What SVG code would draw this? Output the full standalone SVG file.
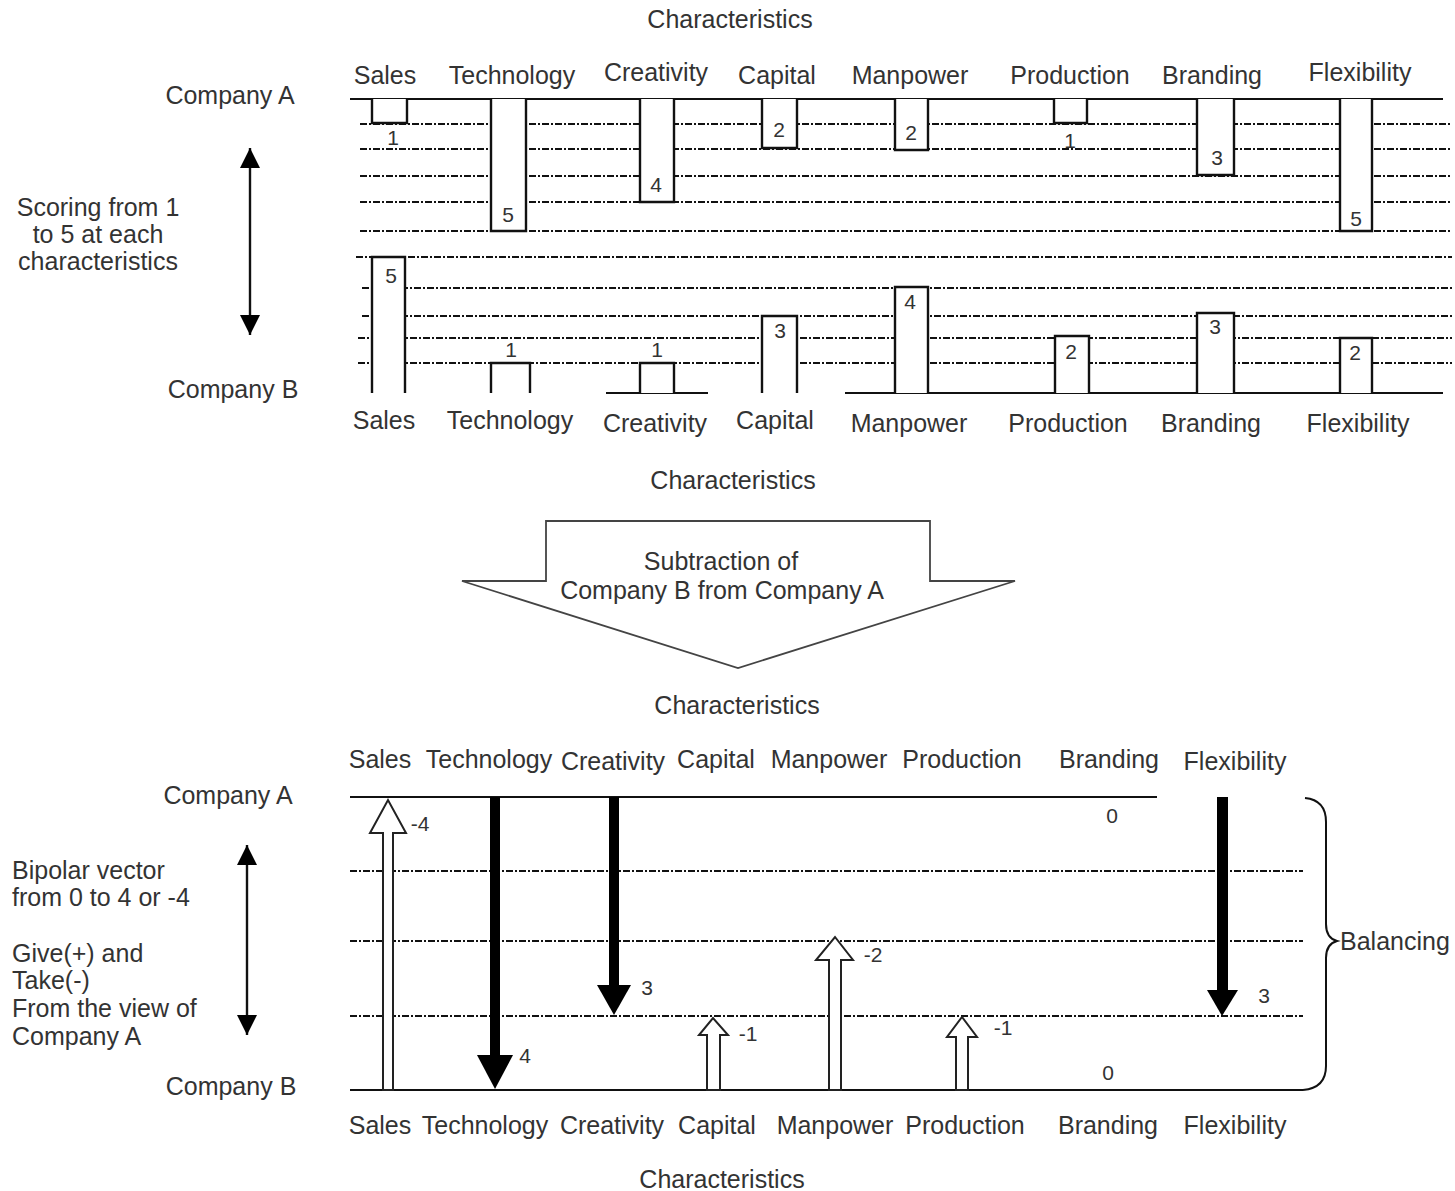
<svg xmlns="http://www.w3.org/2000/svg" width="1455" height="1191" viewBox="0 0 1455 1191">
<style>
text{font-family:"Liberation Sans",Arial,sans-serif;fill:#333;font-size:25px}
.c{text-anchor:middle}
.n{font-size:21px;text-anchor:middle}
.axis{stroke:#111;stroke-width:2.2;fill:none}
.dash{stroke:#111;stroke-width:1.9;stroke-dasharray:7 2 2 2;fill:none}
.bar{stroke:#111;stroke-width:2.4;fill:#fff}
.hollow{stroke:#222;stroke-width:2;fill:#fff}
.solid{fill:#000}
.dbl{stroke:#111;stroke-width:2.4}
</style>
<defs>
<marker id="ah2" viewBox="0 0 24 22" refX="22" refY="11" markerWidth="22" markerHeight="24" markerUnits="userSpaceOnUse" orient="auto-start-reverse">
<path d="M0,0 L22,11 L0,22 z" fill="#000"/>
</marker>
</defs>

<!-- ===== TOP SECTION ===== -->
<g id="top-grid">
<line class="axis" x1="350" y1="99" x2="1443" y2="99"/>
<line class="dash" x1="360" y1="124" x2="1452" y2="124"/>
<line class="dash" x1="360" y1="149" x2="1452" y2="149"/>
<line class="dash" x1="360" y1="176" x2="1452" y2="176"/>
<line class="dash" x1="360" y1="202" x2="1452" y2="202"/>
<line class="dash" x1="360" y1="231" x2="1452" y2="231"/>
<line class="dash" x1="356" y1="257" x2="1452" y2="257"/>
<line class="dash" x1="362" y1="288" x2="1452" y2="288"/>
<line class="dash" x1="362" y1="316" x2="1452" y2="316"/>
<line class="dash" x1="358" y1="338" x2="1452" y2="338"/>
<line class="dash" x1="358" y1="363" x2="1452" y2="363"/>
<line class="axis" x1="845" y1="393" x2="1443" y2="393"/>
<line class="axis" x1="606" y1="393" x2="708" y2="393"/>
</g>

<g id="top-titles">
<text class="c" x="730" y="28">Characteristics</text>
<text class="c" x="385" y="84">Sales</text>
<text class="c" x="512" y="84">Technology</text>
<text class="c" x="656" y="81">Creativity</text>
<text class="c" x="777" y="84">Capital</text>
<text class="c" x="910" y="84">Manpower</text>
<text class="c" x="1070" y="84">Production</text>
<text class="c" x="1212" y="84">Branding</text>
<text class="c" x="1360" y="81">Flexibility</text>
<text class="c" x="384" y="429">Sales</text>
<text class="c" x="510" y="429">Technology</text>
<text class="c" x="655" y="432">Creativity</text>
<text class="c" x="775" y="429">Capital</text>
<text class="c" x="909" y="432">Manpower</text>
<text class="c" x="1068" y="432">Production</text>
<text class="c" x="1211" y="432">Branding</text>
<text class="c" x="1358" y="432">Flexibility</text>
<text class="c" x="733" y="489">Characteristics</text>
</g>

<g id="company-a-bars">
<path class="bar" d="M372,99 V123 H407 V99"/><text class="n" x="393" y="145">1</text>
<path class="bar" d="M491,99 V231 H526 V99"/><text class="n" x="508" y="222">5</text>
<path class="bar" d="M640,99 V202 H674 V99"/><text class="n" x="656" y="192">4</text>
<path class="bar" d="M762,99 V148 H797 V99"/><text class="n" x="779" y="137">2</text>
<path class="bar" d="M895,99 V150 H928 V99"/><text class="n" x="911" y="140">2</text>
<path class="bar" d="M1054,99 V123 H1087 V99"/><text class="n" x="1070" y="148">1</text>
<path class="bar" d="M1197,99 V175 H1234 V99"/><text class="n" x="1217" y="165">3</text>
<path class="bar" d="M1340,99 V231 H1372 V99"/><text class="n" x="1356" y="226">5</text>
</g>

<g id="company-b-bars">
<path class="bar" d="M372,393 V257 H405 V393"/><text class="n" x="391" y="283">5</text>
<path class="bar" d="M491,393 V363 H530 V393"/><text class="n" x="511" y="357">1</text>
<path class="bar" d="M640,393 V363 H674 V393"/><text class="n" x="657" y="357">1</text>
<path class="bar" d="M762,393 V316 H797 V393"/><text class="n" x="780" y="338">3</text>
<path class="bar" d="M895,393 V287 H928 V393"/><text class="n" x="910" y="309">4</text>
<path class="bar" d="M1055,393 V336 H1089 V393"/><text class="n" x="1071" y="359">2</text>
<path class="bar" d="M1197,393 V313 H1234 V393"/><text class="n" x="1215" y="334">3</text>
<path class="bar" d="M1340,393 V338 H1372 V393"/><text class="n" x="1355" y="360">2</text>
</g>

<g id="top-legend">
<text class="c" x="230" y="104">Company A</text>
<text class="c" x="233" y="398">Company B</text>
<text class="c" x="98" y="216">Scoring from 1</text>
<text class="c" x="98" y="243">to 5 at each</text>
<text class="c" x="98" y="270">characteristics</text>
</g>

<!-- ===== SUBTRACTION ARROW ===== -->
<g id="subtraction">
<polygon points="546,521 930,521 930,581 1015,581 738,668 462,581 546,581" fill="#fff" stroke="#444" stroke-width="1.8"/>
<text class="c" x="721" y="570">Subtraction of</text>
<text class="c" x="722" y="599">Company B from Company A</text>
</g>

<!-- ===== BOTTOM SECTION ===== -->
<g id="bottom-grid">
<line class="axis" x1="350" y1="797" x2="1157" y2="797"/>
<line class="dash" x1="350" y1="871" x2="1303" y2="871"/>
<line class="dash" x1="350" y1="941" x2="1303" y2="941"/>
<line class="dash" x1="350" y1="1016" x2="1303" y2="1016"/>
<line class="axis" x1="350" y1="1090" x2="1303" y2="1090"/>
</g>

<g id="bottom-titles">
<text class="c" x="737" y="714">Characteristics</text>
<text class="c" x="380" y="768">Sales</text>
<text class="c" x="489" y="768">Technology</text>
<text class="c" x="613" y="770">Creativity</text>
<text class="c" x="716" y="768">Capital</text>
<text class="c" x="829" y="768">Manpower</text>
<text class="c" x="962" y="768">Production</text>
<text class="c" x="1109" y="768">Branding</text>
<text class="c" x="1235" y="770">Flexibility</text>
<text class="c" x="380" y="1134">Sales</text>
<text class="c" x="485" y="1134">Technology</text>
<text class="c" x="612" y="1134">Creativity</text>
<text class="c" x="717" y="1134">Capital</text>
<text class="c" x="835" y="1134">Manpower</text>
<text class="c" x="965" y="1134">Production</text>
<text class="c" x="1108" y="1134">Branding</text>
<text class="c" x="1235" y="1134">Flexibility</text>
<text class="c" x="722" y="1188">Characteristics</text>
</g>

<g id="bottom-legend">
<text class="c" x="228" y="804">Company A</text>
<text class="c" x="231" y="1095">Company B</text>
<text x="12" y="879">Bipolar vector</text>
<text x="12" y="906">from 0 to 4 or -4</text>
<text x="12" y="962">Give(+) and</text>
<text x="12" y="989">Take(-)</text>
<text x="12" y="1017">From the view of</text>
<text x="12" y="1045">Company A</text>
</g>

<g id="vector-labels">
<text class="n" x="420" y="831">-4</text>
<text class="n" x="525" y="1063">4</text>
<text class="n" x="647" y="995">3</text>
<text class="n" x="748" y="1041">-1</text>
<text class="n" x="873" y="962">-2</text>
<text class="n" x="1003" y="1035">-1</text>
<text class="n" x="1112" y="823">0</text>
<text class="n" x="1108" y="1080">0</text>
<text class="n" x="1264" y="1003">3</text>
</g>

<g id="balancing">
<path d="M1305,798 Q1326,800 1326,822 V924 Q1326,938 1337,941 Q1326,944 1326,958 V1066 Q1326,1088 1303,1090" fill="none" stroke="#111" stroke-width="2"/>
<text x="1340" y="950">Balancing</text>
</g>

<g id="connectors">
<line class="dbl" x1="250" y1="148" x2="250" y2="335" style="marker-start:url(#ah2);marker-end:url(#ah2)"/>
<line class="dbl" x1="247" y1="845" x2="247" y2="1035" style="marker-start:url(#ah2);marker-end:url(#ah2)"/>
<polygon class="hollow" points="383,1090 383,833 370,833 388,800 406,833 393,833 393,1090"/>
<polygon class="hollow" points="829,1090 829,960 816,960 835,937 853,960 841,960 841,1090"/>
<polygon class="hollow" points="707,1090 707,1035 699,1035 713,1018 728,1035 720,1035 720,1090"/>
<polygon class="hollow" points="956,1090 956,1037 947,1037 962,1017 977,1037 968,1037 968,1090"/>
<g class="solid">
<rect x="490" y="797" width="10" height="260"/><polygon points="477,1055 513,1055 495,1089"/>
<rect x="609" y="797" width="10" height="190"/><polygon points="597,985 631,985 614,1015"/>
<rect x="1217" y="797" width="11" height="195"/><polygon points="1207,990 1238,990 1222,1016"/>
</g>
</g>
</svg>
